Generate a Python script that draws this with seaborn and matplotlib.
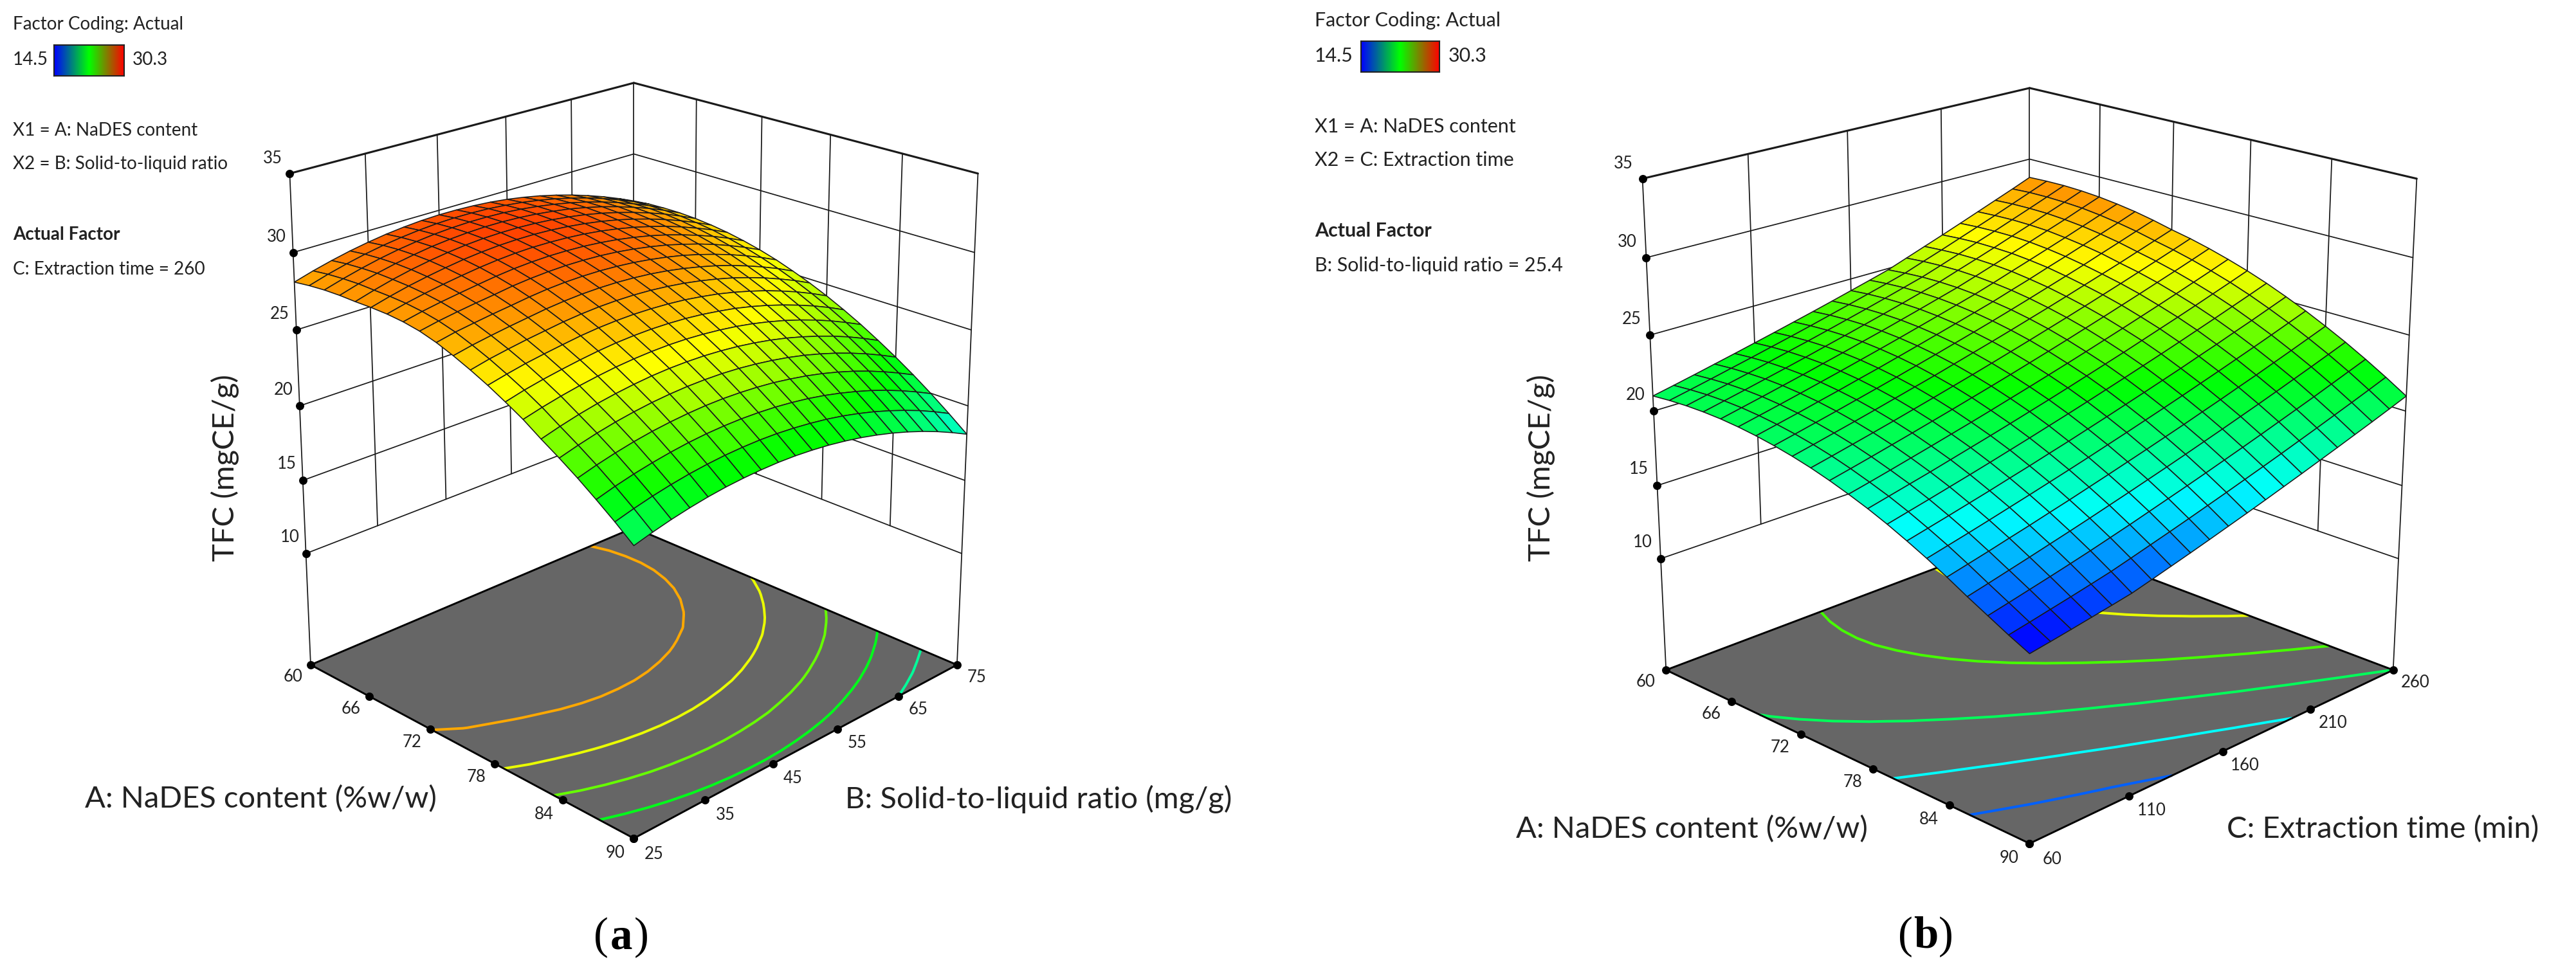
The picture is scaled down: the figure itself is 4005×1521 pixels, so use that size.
import numpy as np
import matplotlib
matplotlib.use('Agg')
import matplotlib.pyplot as plt
from matplotlib.colors import LinearSegmentedColormap, Normalize
from mpl_toolkits.mplot3d import proj3d
import seaborn as sns

# 坐标轴刻度
a_ticks = [60, 66, 72, 78, 84, 90]
b_ticks = [25, 35, 45, 55, 65, 75]
c_ticks = [60, 110, 160, 210, 260]
z_ticks = [10, 15, 20, 25, 30, 35]
floor_z = 2.2
box_top_z = 62.8  # 相机对准点偏上，所以盒子比可见部分高

a_grid = [60.0, 61.5, 63.0, 64.5, 66.0, 67.5, 69.0, 70.5, 72.0, 73.5, 75.0, 76.5, 78.0, 79.5, 81.0, 82.5, 84.0, 85.5, 87.0, 88.5, 90.0]
b_grid = [25.0, 27.5, 30.0, 32.5, 35.0, 37.5, 40.0, 42.5, 45.0, 47.5, 50.0, 52.5, 55.0, 57.5, 60.0, 62.5, 65.0, 67.5, 70.0, 72.5, 75.0]
c_grid = [60, 70, 80, 90, 100, 110, 120, 130, 140, 150, 160, 170, 180, 190, 200, 210, 220, 230, 240, 250, 260]

# 响应面 TFC，行为 A，列为 B
tfc_ab = [
    [28.10, 28.46, 28.77, 29.04, 29.26, 29.44, 29.57, 29.66, 29.70, 29.69, 29.64, 29.55, 29.41, 29.22, 28.99, 28.71, 28.39, 28.02, 27.61, 27.15, 26.65],
    [28.24, 28.60, 28.91, 29.18, 29.40, 29.57, 29.70, 29.79, 29.83, 29.82, 29.77, 29.67, 29.53, 29.34, 29.11, 28.83, 28.51, 28.14, 27.72, 27.26, 26.76],
    [28.33, 28.68, 28.99, 29.26, 29.48, 29.65, 29.78, 29.86, 29.90, 29.89, 29.84, 29.74, 29.59, 29.40, 29.17, 28.89, 28.56, 28.19, 27.77, 27.31, 26.80],
    [28.36, 28.72, 29.03, 29.29, 29.50, 29.68, 29.80, 29.88, 29.92, 29.91, 29.85, 29.75, 29.60, 29.42, 29.18, 28.90, 28.57, 28.19, 27.78, 27.31, 26.80],
    [28.34, 28.69, 29.00, 29.26, 29.47, 29.64, 29.77, 29.85, 29.88, 29.87, 29.81, 29.71, 29.56, 29.37, 29.13, 28.84, 28.51, 28.14, 27.72, 27.25, 26.74],
    [28.35, 28.67, 28.95, 29.18, 29.38, 29.55, 29.67, 29.75, 29.78, 29.77, 29.71, 29.60, 29.45, 29.26, 29.02, 28.73, 28.40, 28.02, 27.60, 27.13, 26.62],
    [28.32, 28.61, 28.85, 29.06, 29.24, 29.40, 29.52, 29.60, 29.63, 29.61, 29.55, 29.45, 29.30, 29.10, 28.86, 28.57, 28.24, 27.86, 27.43, 26.97, 26.45],
    [28.22, 28.48, 28.69, 28.87, 29.04, 29.20, 29.32, 29.39, 29.42, 29.40, 29.34, 29.23, 29.08, 28.88, 28.64, 28.35, 28.01, 27.63, 27.21, 26.74, 26.22],
    [28.03, 28.27, 28.46, 28.63, 28.78, 28.95, 29.06, 29.13, 29.16, 29.14, 29.08, 28.97, 28.81, 28.61, 28.37, 28.07, 27.74, 27.36, 26.93, 26.46, 25.94],
    [27.72, 27.97, 28.15, 28.32, 28.47, 28.63, 28.75, 28.82, 28.84, 28.82, 28.75, 28.64, 28.48, 28.28, 28.04, 27.74, 27.40, 27.02, 26.59, 26.12, 25.60],
    [27.31, 27.56, 27.76, 27.94, 28.10, 28.26, 28.37, 28.44, 28.46, 28.44, 28.37, 28.26, 28.10, 27.89, 27.64, 27.35, 27.01, 26.62, 26.19, 25.72, 25.19],
    [26.84, 27.11, 27.32, 27.51, 27.67, 27.83, 27.94, 28.01, 28.03, 28.01, 27.94, 27.82, 27.66, 27.45, 27.20, 26.91, 26.56, 26.18, 25.74, 25.27, 24.74],
    [26.32, 26.59, 26.83, 27.02, 27.19, 27.35, 27.46, 27.52, 27.54, 27.51, 27.44, 27.33, 27.16, 26.96, 26.70, 26.40, 26.06, 25.67, 25.24, 24.76, 24.23],
    [25.73, 26.03, 26.27, 26.47, 26.65, 26.80, 26.91, 26.97, 26.99, 26.96, 26.89, 26.77, 26.60, 26.40, 26.14, 25.84, 25.49, 25.10, 24.67, 24.19, 23.66],
    [25.10, 25.40, 25.66, 25.88, 26.06, 26.21, 26.31, 26.37, 26.39, 26.36, 26.28, 26.16, 26.00, 25.79, 25.53, 25.23, 24.88, 24.49, 24.05, 23.56, 23.04],
    [24.35, 24.68, 24.97, 25.21, 25.40, 25.55, 25.66, 25.72, 25.73, 25.70, 25.62, 25.50, 25.33, 25.12, 24.86, 24.55, 24.20, 23.81, 23.37, 22.88, 22.35],
    [23.65, 23.98, 24.27, 24.51, 24.70, 24.85, 24.95, 25.01, 25.02, 24.99, 24.91, 24.78, 24.61, 24.40, 24.14, 23.83, 23.48, 23.08, 22.64, 22.15, 21.62],
    [22.90, 23.23, 23.51, 23.75, 23.94, 24.08, 24.18, 24.24, 24.25, 24.21, 24.13, 24.01, 23.83, 23.62, 23.36, 23.05, 22.70, 22.30, 21.85, 21.36, 20.83],
    [22.08, 22.41, 22.69, 22.92, 23.11, 23.26, 23.36, 23.41, 23.42, 23.38, 23.30, 23.17, 23.00, 22.78, 22.51, 22.20, 21.85, 21.45, 21.00, 20.51, 19.98],
    [21.22, 21.54, 21.82, 22.05, 22.24, 22.38, 22.48, 22.53, 22.54, 22.50, 22.41, 22.28, 22.11, 21.89, 21.62, 21.31, 20.95, 20.55, 20.11, 19.61, 19.07],
    [20.29, 20.61, 20.89, 21.12, 21.31, 21.45, 21.54, 21.59, 21.60, 21.56, 21.47, 21.34, 21.16, 20.94, 20.67, 20.36, 20.00, 19.60, 19.15, 18.65, 18.11],
]

# 行为 A，列为 C
tfc_ac = [
    [21.00, 21.29, 21.59, 21.90, 22.21, 22.53, 22.85, 23.18, 23.51, 23.85, 24.20, 24.55, 24.91, 25.37, 25.83, 26.29, 26.76, 27.24, 27.72, 28.20, 28.70],
    [21.12, 21.41, 21.71, 22.02, 22.33, 22.65, 22.97, 23.30, 23.64, 23.98, 24.33, 24.68, 25.04, 25.49, 25.93, 26.39, 26.85, 27.31, 27.79, 28.27, 28.75],
    [21.19, 21.49, 21.79, 22.09, 22.41, 22.73, 23.05, 23.38, 23.72, 24.06, 24.41, 24.77, 25.13, 25.56, 26.00, 26.45, 26.89, 27.35, 27.81, 28.28, 28.76],
    [21.21, 21.51, 21.81, 22.12, 22.43, 22.75, 23.08, 23.41, 23.75, 24.09, 24.44, 24.80, 25.16, 25.59, 26.01, 26.44, 26.89, 27.33, 27.79, 28.24, 28.71],
    [21.18, 21.48, 21.78, 22.09, 22.40, 22.73, 23.05, 23.39, 23.72, 24.07, 24.42, 24.78, 25.14, 25.55, 25.97, 26.40, 26.83, 27.27, 27.70, 28.16, 28.61],
    [21.09, 21.39, 21.69, 22.00, 22.32, 22.64, 22.97, 23.30, 23.64, 23.99, 24.34, 24.70, 25.06, 25.46, 25.88, 26.29, 26.71, 27.13, 27.57, 28.01, 28.45],
    [20.95, 21.25, 21.55, 21.87, 22.18, 22.51, 22.83, 23.17, 23.51, 23.86, 24.21, 24.57, 24.93, 25.33, 25.72, 26.14, 26.54, 26.96, 27.38, 27.81, 28.25],
    [20.76, 21.06, 21.37, 21.68, 22.00, 22.32, 22.65, 22.99, 23.33, 23.68, 24.03, 24.39, 24.76, 25.14, 25.53, 25.92, 26.32, 26.74, 27.15, 27.57, 27.99],
    [20.52, 20.82, 21.13, 21.44, 21.76, 22.09, 22.42, 22.75, 23.10, 23.45, 23.80, 24.16, 24.53, 24.90, 25.28, 25.67, 26.06, 26.45, 26.86, 27.27, 27.68],
    [20.23, 20.53, 20.84, 21.15, 21.47, 21.80, 22.13, 22.47, 22.81, 23.16, 23.52, 23.88, 24.25, 24.62, 25.00, 25.39, 25.78, 26.18, 26.58, 26.99, 27.41],
    [19.88, 20.18, 20.49, 20.81, 21.13, 21.46, 21.79, 22.13, 22.47, 22.82, 23.18, 23.54, 23.91, 24.29, 24.67, 25.06, 25.45, 25.85, 26.25, 26.66, 27.08],
    [19.48, 19.78, 20.09, 20.41, 20.73, 21.06, 21.39, 21.73, 22.08, 22.43, 22.79, 23.15, 23.52, 23.90, 24.28, 24.67, 25.06, 25.46, 25.87, 26.28, 26.70],
    [19.04, 19.35, 19.66, 19.97, 20.30, 20.63, 20.96, 21.30, 21.65, 22.00, 22.36, 22.73, 23.10, 23.47, 23.86, 24.25, 24.64, 25.04, 25.45, 25.86, 26.28],
    [18.54, 18.85, 19.16, 19.48, 19.80, 20.13, 20.47, 20.81, 21.16, 21.51, 21.87, 22.24, 22.61, 22.99, 23.37, 23.76, 24.16, 24.56, 24.97, 25.38, 25.80],
    [17.98, 18.29, 18.60, 18.92, 19.24, 19.58, 19.91, 20.26, 20.60, 20.96, 21.32, 21.69, 22.06, 22.44, 22.82, 23.22, 23.61, 24.02, 24.42, 24.84, 25.26],
    [17.38, 17.69, 18.00, 18.32, 18.65, 18.98, 19.32, 19.66, 20.01, 20.37, 20.73, 21.10, 21.47, 21.85, 22.24, 22.63, 23.03, 23.43, 23.84, 24.26, 24.68],
    [16.72, 17.03, 17.34, 17.67, 17.99, 18.33, 18.66, 19.01, 19.36, 19.72, 20.08, 20.45, 20.82, 21.21, 21.59, 21.99, 22.38, 22.79, 23.20, 23.62, 24.04],
    [16.02, 16.33, 16.65, 16.97, 17.30, 17.63, 17.97, 18.32, 18.67, 19.03, 19.39, 19.76, 20.14, 20.52, 20.91, 21.30, 21.70, 22.11, 22.52, 22.94, 23.36],
    [15.36, 15.65, 15.95, 16.25, 16.56, 16.88, 17.22, 17.56, 17.92, 18.28, 18.64, 19.01, 19.39, 19.77, 20.16, 20.56, 20.96, 21.36, 21.78, 22.20, 22.62],
    [14.70, 14.96, 15.23, 15.50, 15.78, 16.07, 16.41, 16.76, 17.11, 17.47, 17.84, 18.21, 18.59, 18.97, 19.36, 19.76, 20.16, 20.57, 20.98, 21.40, 21.83],
    [14.09, 14.30, 14.52, 14.75, 14.98, 15.22, 15.56, 15.91, 16.26, 16.62, 16.99, 17.36, 17.74, 18.13, 18.52, 18.92, 19.32, 19.73, 20.14, 20.56, 20.99],
]

levels_ab = [20, 22, 24, 26, 28]
levels_ac = [16, 18.5, 21, 23.5, 26]

tfc_min = 14.5
tfc_max = 30.3

W, H = 4005, 1521
surface_cmap = LinearSegmentedColormap.from_list('rsm', ['#0000ff', '#00ffff', '#00ff00', '#ffff00', '#ff3000'])
legend_cmap = LinearSegmentedColormap.from_list('rsm_legend', ['#0000ff', '#00ff00', '#ff0000'])
norm = Normalize(tfc_min, tfc_max)

sns.set_theme(style='white')
plt.rcParams['font.family'] = ['Lato', 'DejaVu Sans']
plt.rcParams['text.color'] = '#222222'

fig = plt.figure(figsize=(W / 300, H / 300), dpi=300, facecolor='white')


def put_text(x, y, s, **kw):
    kw.setdefault('va', 'center')
    kw.setdefault('ha', 'left')
    return fig.text(x / W, 1 - y / H, s, **kw)


def tick_label(ax, x, y, z, s):
    # 先投影再写文字，标签就是普通的二维文字
    xp, yp, _ = proj3d.proj_transform(x, y, z, ax.get_proj())
    ax.text2D(xp, yp, s, transform=ax.transData, fontsize=6.2, ha='center', va='center', zorder=6)


def draw_panel(rect_px, x_grid, y_grid, z_rows, x_ticks, y_ticks, levels):
    left, bottom, qx, qy = rect_px
    ax = fig.add_axes([left / W, bottom / H, qx / W, qy / H], projection='3d')
    # 图 (b) 在原图里被横向拉伸过，所以这里不保持方形
    ax.apply_aspect = lambda position=None: None
    ax.set_proj_type('persp', focal_length=0.3146)
    ax.view_init(elev=18.1, azim=-45)
    ax.set_box_aspect((1, 1, 2.08), zoom=0.766)
    ax.computed_zorder = False
    ax.patch.set_alpha(0)
    x0, x1 = x_ticks[0], x_ticks[-1]
    y0, y1 = y_ticks[0], y_ticks[-1]
    ax.set_xlim(x0, x1, view_margin=0)
    ax.set_ylim(y0, y1, view_margin=0)
    ax.set_zlim(floor_z, box_top_z, view_margin=0)
    ax.set_axis_off()

    # 背面网格
    line = dict(color='#1a1a1a', lw=0.42, zorder=1, clip_on=False)
    for z in z_ticks:
        lw = 0.75 if z == z_ticks[-1] else 0.42
        ax.plot([x0, x0], [y0, y1], [z, z], **{**line, 'lw': lw})
        ax.plot([x0, x1], [y1, y1], [z, z], **{**line, 'lw': lw})
    for y in y_ticks[1:-1]:
        ax.plot([x0, x0], [y, y], [z_ticks[0], z_ticks[-1]], **line)
    for x in x_ticks[1:-1]:
        ax.plot([x, x], [y1, y1], [z_ticks[0], z_ticks[-1]], **line)
    for x, y in [(x0, y0), (x0, y1), (x1, y1)]:
        ax.plot([x, x], [y, y], [floor_z, z_ticks[-1]], **line)

    # 底面和等高线
    fx, fy = np.meshgrid([x0, x1], [y0, y1], indexing='ij')
    ax.plot_surface(fx, fy, np.full(fx.shape, floor_z), color='#666666', shade=False, linewidth=0, zorder=2)
    X, Y = np.meshgrid(x_grid, y_grid, indexing='ij')
    Z = np.array(z_rows)
    ax.contour(X, Y, Z, levels=levels, zdir='z', offset=floor_z, cmap=surface_cmap, norm=norm,
               linewidths=0.95, zorder=3)
    edge = dict(color='black', lw=0.7, zorder=4, clip_on=False)
    ax.plot([x0, x1, x1, x0, x0], [y0, y0, y1, y1, y0], [floor_z] * 5, **edge)

    # 刻度点和标签
    dot = dict(color='black', marker='o', ms=2.1, ls='', zorder=4, clip_on=False)
    ax.plot(x_ticks, [y0] * len(x_ticks), [floor_z] * len(x_ticks), **dot)
    ax.plot([x1] * len(y_ticks), y_ticks, [floor_z] * len(y_ticks), **dot)
    ax.plot([x0] * len(z_ticks), [y0] * len(z_ticks), z_ticks, **dot)
    dx = (x1 - x0) * 0.055
    dy = (y1 - y0) * 0.05
    for x in x_ticks:
        tick_label(ax, x, y0 - dy, floor_z - 0.3, str(x))
    for y in y_ticks:
        tick_label(ax, x1 + dx, y, floor_z - 0.3, str(y))
    for z in z_ticks:
        tick_label(ax, x0 - dx, y0, z + 0.6, str(z))

    # 响应面
    ax.plot_surface(X, Y, Z, facecolors=surface_cmap(norm(Z)), rstride=1, cstride=1, shade=False,
                    edgecolor='#1a1a1a', linewidth=0.38, zorder=5)
    return ax


def draw_legend(x, y_off, bar_w, label_gap, fs, lines, actual):
    put_text(x, 38 + y_off, 'Factor Coding: Actual', fontsize=fs)
    put_text(x, 93 + y_off, '14.5', fontsize=fs)
    put_text(x + bar_w + label_gap, 93 + y_off, '30.3', fontsize=fs)
    cax = fig.add_axes([(x + 64 + (bar_w - 109) * 0.6) / W, 1 - (118 + y_off) / H, bar_w / W, 48 / H])
    ramp = np.linspace(tfc_min, tfc_max, 256).reshape(1, -1)
    sns.heatmap(ramp, cmap=legend_cmap, cbar=False, xticklabels=False, yticklabels=False, ax=cax)
    for sp in cax.spines.values():
        sp.set_visible(True)
        sp.set_color('#222222')
        sp.set_linewidth(0.5)
    put_text(x, 203 + y_off, lines[0], fontsize=fs)
    put_text(x, 255 + y_off, lines[1], fontsize=fs)
    put_text(x, 365 + y_off, 'Actual Factor', fontsize=fs, fontweight='bold')
    put_text(x, 419 + y_off, actual, fontsize=fs)


draw_panel((-247, -43, 2400, 2400), a_grid, b_grid, tfc_ab, a_ticks, b_ticks, levels_ab)
draw_panel((1769, -51, 2700, 2400), a_grid, c_grid, tfc_ac, a_ticks, c_ticks, levels_ac)

draw_legend(20, 0, 109, 77, 6.7, ['X1 = A: NaDES content', 'X2 = B: Solid-to-liquid ratio'], 'C: Extraction time = 260')
draw_legend(2044, -6, 122, 86, 7.3, ['X1 = A: NaDES content', 'X2 = C: Extraction time'], 'B: Solid-to-liquid ratio = 25.4')

put_text(405, 1243, 'A: NaDES content (%w/w)', fontsize=11.3, ha='center')
put_text(1615, 1243, 'B: Solid-to-liquid ratio (mg/g)', fontsize=11.3, ha='center')
put_text(2630, 1290, 'A: NaDES content (%w/w)', fontsize=11.3, ha='center')
put_text(3705, 1290, 'C: Extraction time (min)', fontsize=11.3, ha='center')
put_text(350, 728, 'TFC (mgCE/g)', fontsize=11.3, rotation=90, ha='center')
put_text(2396, 728, 'TFC (mgCE/g)', fontsize=11.3, rotation=90, ha='center')

for cx, cy, letter in [(966, 1458, 'a'), (2994, 1457, 'b')]:
    serif = dict(fontsize=16.5, family='Liberation Serif', color='black')
    put_text(cx - 20, cy, '(', ha='right', **serif)
    put_text(cx, cy, letter, ha='center', fontweight='bold', **serif)
    put_text(cx + 20, cy, ')', ha='left', **serif)

fig.savefig('out.png', dpi=300, facecolor='white')
